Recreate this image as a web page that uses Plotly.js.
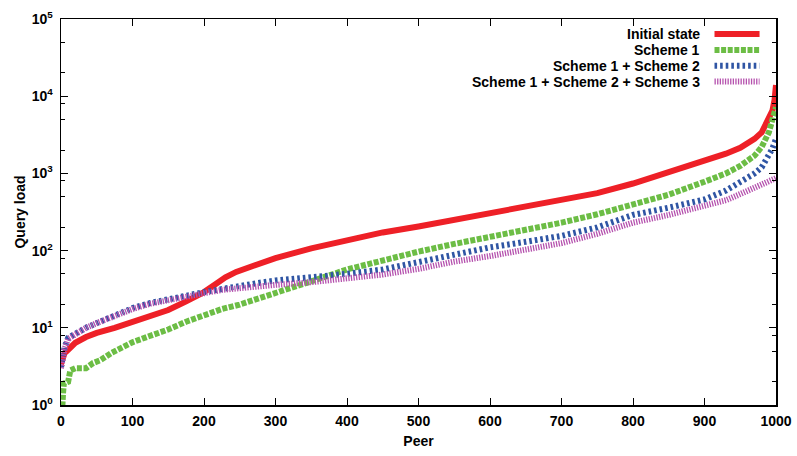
<!DOCTYPE html>
<html>
<head>
<meta charset="utf-8">
<script src="https://cdn.plot.ly/plotly-3.0.1.min.js"></script>
<style>
html,body{margin:0;padding:0;background:#fff;}
#chart{width:797px;height:456px;}
</style>
</head>
<body>
<div id="chart"></div>
<script>
// Peer index (x) for Initial state
const peersInit = [0, 3, 5, 10, 20, 35, 50, 75, 100, 125, 150, 175, 200, 215, 230, 245, 260, 275, 300, 350, 400, 450, 500, 550, 600, 650, 700, 750, 800, 850, 900, 930, 950, 970, 980, 990, 995, 998, 1000];
const initialState = [3.4, 4.2, 4.7, 5.2, 6.4, 7.6, 8.6, 10, 11.8, 14, 17, 22, 29, 36, 45, 53, 60, 66, 80, 107, 138, 172, 205, 250, 305, 370, 450, 555, 740, 1030, 1450, 1800, 2150, 2800, 3400, 5000, 6500, 9000, 14000];

// Peer index (x) shared by Scheme 1+2 and Scheme 1+2+3
const peers = [0, 3, 5, 10, 20, 35, 50, 75, 100, 125, 150, 175, 200, 225, 250, 275, 300, 350, 400, 450, 500, 550, 600, 650, 700, 750, 800, 850, 900, 930, 950, 970, 980, 990, 995, 998, 1000];
const scheme12 = [3.1, 4.5, 5.6, 7.4, 8.5, 10, 11.5, 14.5, 18, 21, 23, 26, 29, 32, 36, 38, 41, 45, 50, 57, 72, 90, 110, 130, 155, 200, 290, 360, 460, 600, 770, 1000, 1200, 1700, 2100, 2500, 2800];
const scheme123 = [3.0, 4.3, 5.3, 7.2, 8.3, 10, 11.5, 14.5, 17.5, 20.5, 23, 25.5, 28, 31, 33, 35, 36, 39, 44, 49, 58, 72, 85, 105, 125, 165, 230, 290, 380, 450, 540, 650, 720, 800, 830, 850, 870];

// Scheme 1 has its own sampling (staircase at low loads)
const peersS1 = [0, 2, 3, 4, 10, 13, 20, 35, 45, 55, 70, 85, 100, 120, 140, 150, 175, 200, 225, 250, 275, 300, 350, 400, 450, 500, 550, 600, 650, 700, 750, 800, 850, 900, 930, 950, 970, 980, 990, 995, 1000];
const scheme1 = [1, 1, 1.5, 1.9, 2, 2.8, 3, 3, 3.5, 3.8, 4.7, 5.5, 6.5, 7.6, 8.8, 9.5, 12, 14.8, 17.5, 20, 24, 29, 40, 57, 75, 97, 122, 150, 188, 230, 296, 390, 530, 780, 1000, 1250, 1700, 2200, 3400, 5000, 7200];

const seriesNames = ['Initial state', 'Scheme 1', 'Scheme 1 + Scheme 2', 'Scheme 1 + Scheme 2 + Scheme 3'];
const seriesColors = ['#EE2027', '#6CBD45', '#2F55A4', '#B552AE'];
const seriesDash = ['solid', '5px,1.6px', '2.6px,3px', '1.3px,1.3px'];

const xTicks = [0, 100, 200, 300, 400, 500, 600, 700, 800, 900, 1000];
const yTicks = [1, 10, 100, 1000, 10000, 100000];
const yTickText = ['10<sup>0</sup>', '10<sup>1</sup>', '10<sup>2</sup>', '10<sup>3</sup>', '10<sup>4</sup>', '10<sup>5</sup>'];
const yMinor = [2, 5, 8, 20, 50, 80, 200, 500, 800, 2000, 5000, 8000, 20000, 50000];

const FONT = 'Liberation Sans, Arial, Helvetica, sans-serif';
const LW = 6;

const xs = [peersInit, peersS1, peers, peers];
const ys = [initialState, scheme1, scheme12, scheme123];
const traces = ys.map((y, i) => ({
  type: 'scatter', mode: 'lines', x: xs[i], y: y, name: seriesNames[i],
  line: {color: seriesColors[i], width: LW, dash: seriesDash[i]},
  showlegend: false, hoverinfo: 'skip'
}));

// manual gnuplot-style key: text right-aligned, sample to the right
const keyTextX = 0.896, keyX0 = 0.914, keyX1 = 0.977;
const keyRows = [0.961, 0.920, 0.879, 0.838];
const annotations = seriesNames.map((n, i) => ({
  xref: 'paper', yref: 'paper', x: keyTextX, y: keyRows[i],
  xanchor: 'right', yanchor: 'middle', showarrow: false, text: n,
  font: {family: FONT, size: 14, color: '#000', weight: 'bold'}
}));
const shapes = seriesNames.map((n, i) => ({
  type: 'line', xref: 'paper', yref: 'paper', x0: keyX0, x1: keyX1, y0: keyRows[i], y1: keyRows[i],
  line: {color: seriesColors[i], width: LW, dash: seriesDash[i]}
}));

const axisFont = {family: FONT, size: 14, color: '#000', weight: 'bold'};

const layout = {
  width: 797, height: 456,
  margin: {l: 61, r: 21, t: 19, b: 51},
  paper_bgcolor: '#fff', plot_bgcolor: '#fff',
  showlegend: false,
  font: {family: FONT, size: 14, color: '#000'},
  xaxis: {
    range: [0, 1000], tickmode: 'array', tickvals: xTicks, ticktext: xTicks.map(String),
    ticks: 'inside', ticklen: 7, tickwidth: 1, tickcolor: '#000',
    showline: true, linecolor: '#000', linewidth: 1.5, mirror: 'allticks',
    showgrid: false, zeroline: false, tickfont: axisFont, ticklabelstandoff: 3,
    title: {text: 'Peer', font: axisFont, standoff: 8}
  },
  yaxis: {
    type: 'log', range: [0, 5], tickmode: 'array', tickvals: yTicks, ticktext: yTickText,
    ticks: 'inside', ticklen: 7, tickwidth: 1, tickcolor: '#000',
    minor: {tickmode: 'array', tickvals: yMinor, ticks: 'inside', ticklen: 4, tickwidth: 1, tickcolor: '#000', showgrid: false},
    showline: true, linecolor: '#000', linewidth: 1.5, mirror: 'allticks',
    showgrid: false, zeroline: false, tickfont: axisFont, ticklabelstandoff: 4,
    title: {text: 'Query load', font: axisFont, standoff: 3}
  },
  annotations: annotations,
  shapes: shapes
};

Plotly.newPlot('chart', traces, layout, {staticPlot: true, displayModeBar: false});
</script>
</body>
</html>
